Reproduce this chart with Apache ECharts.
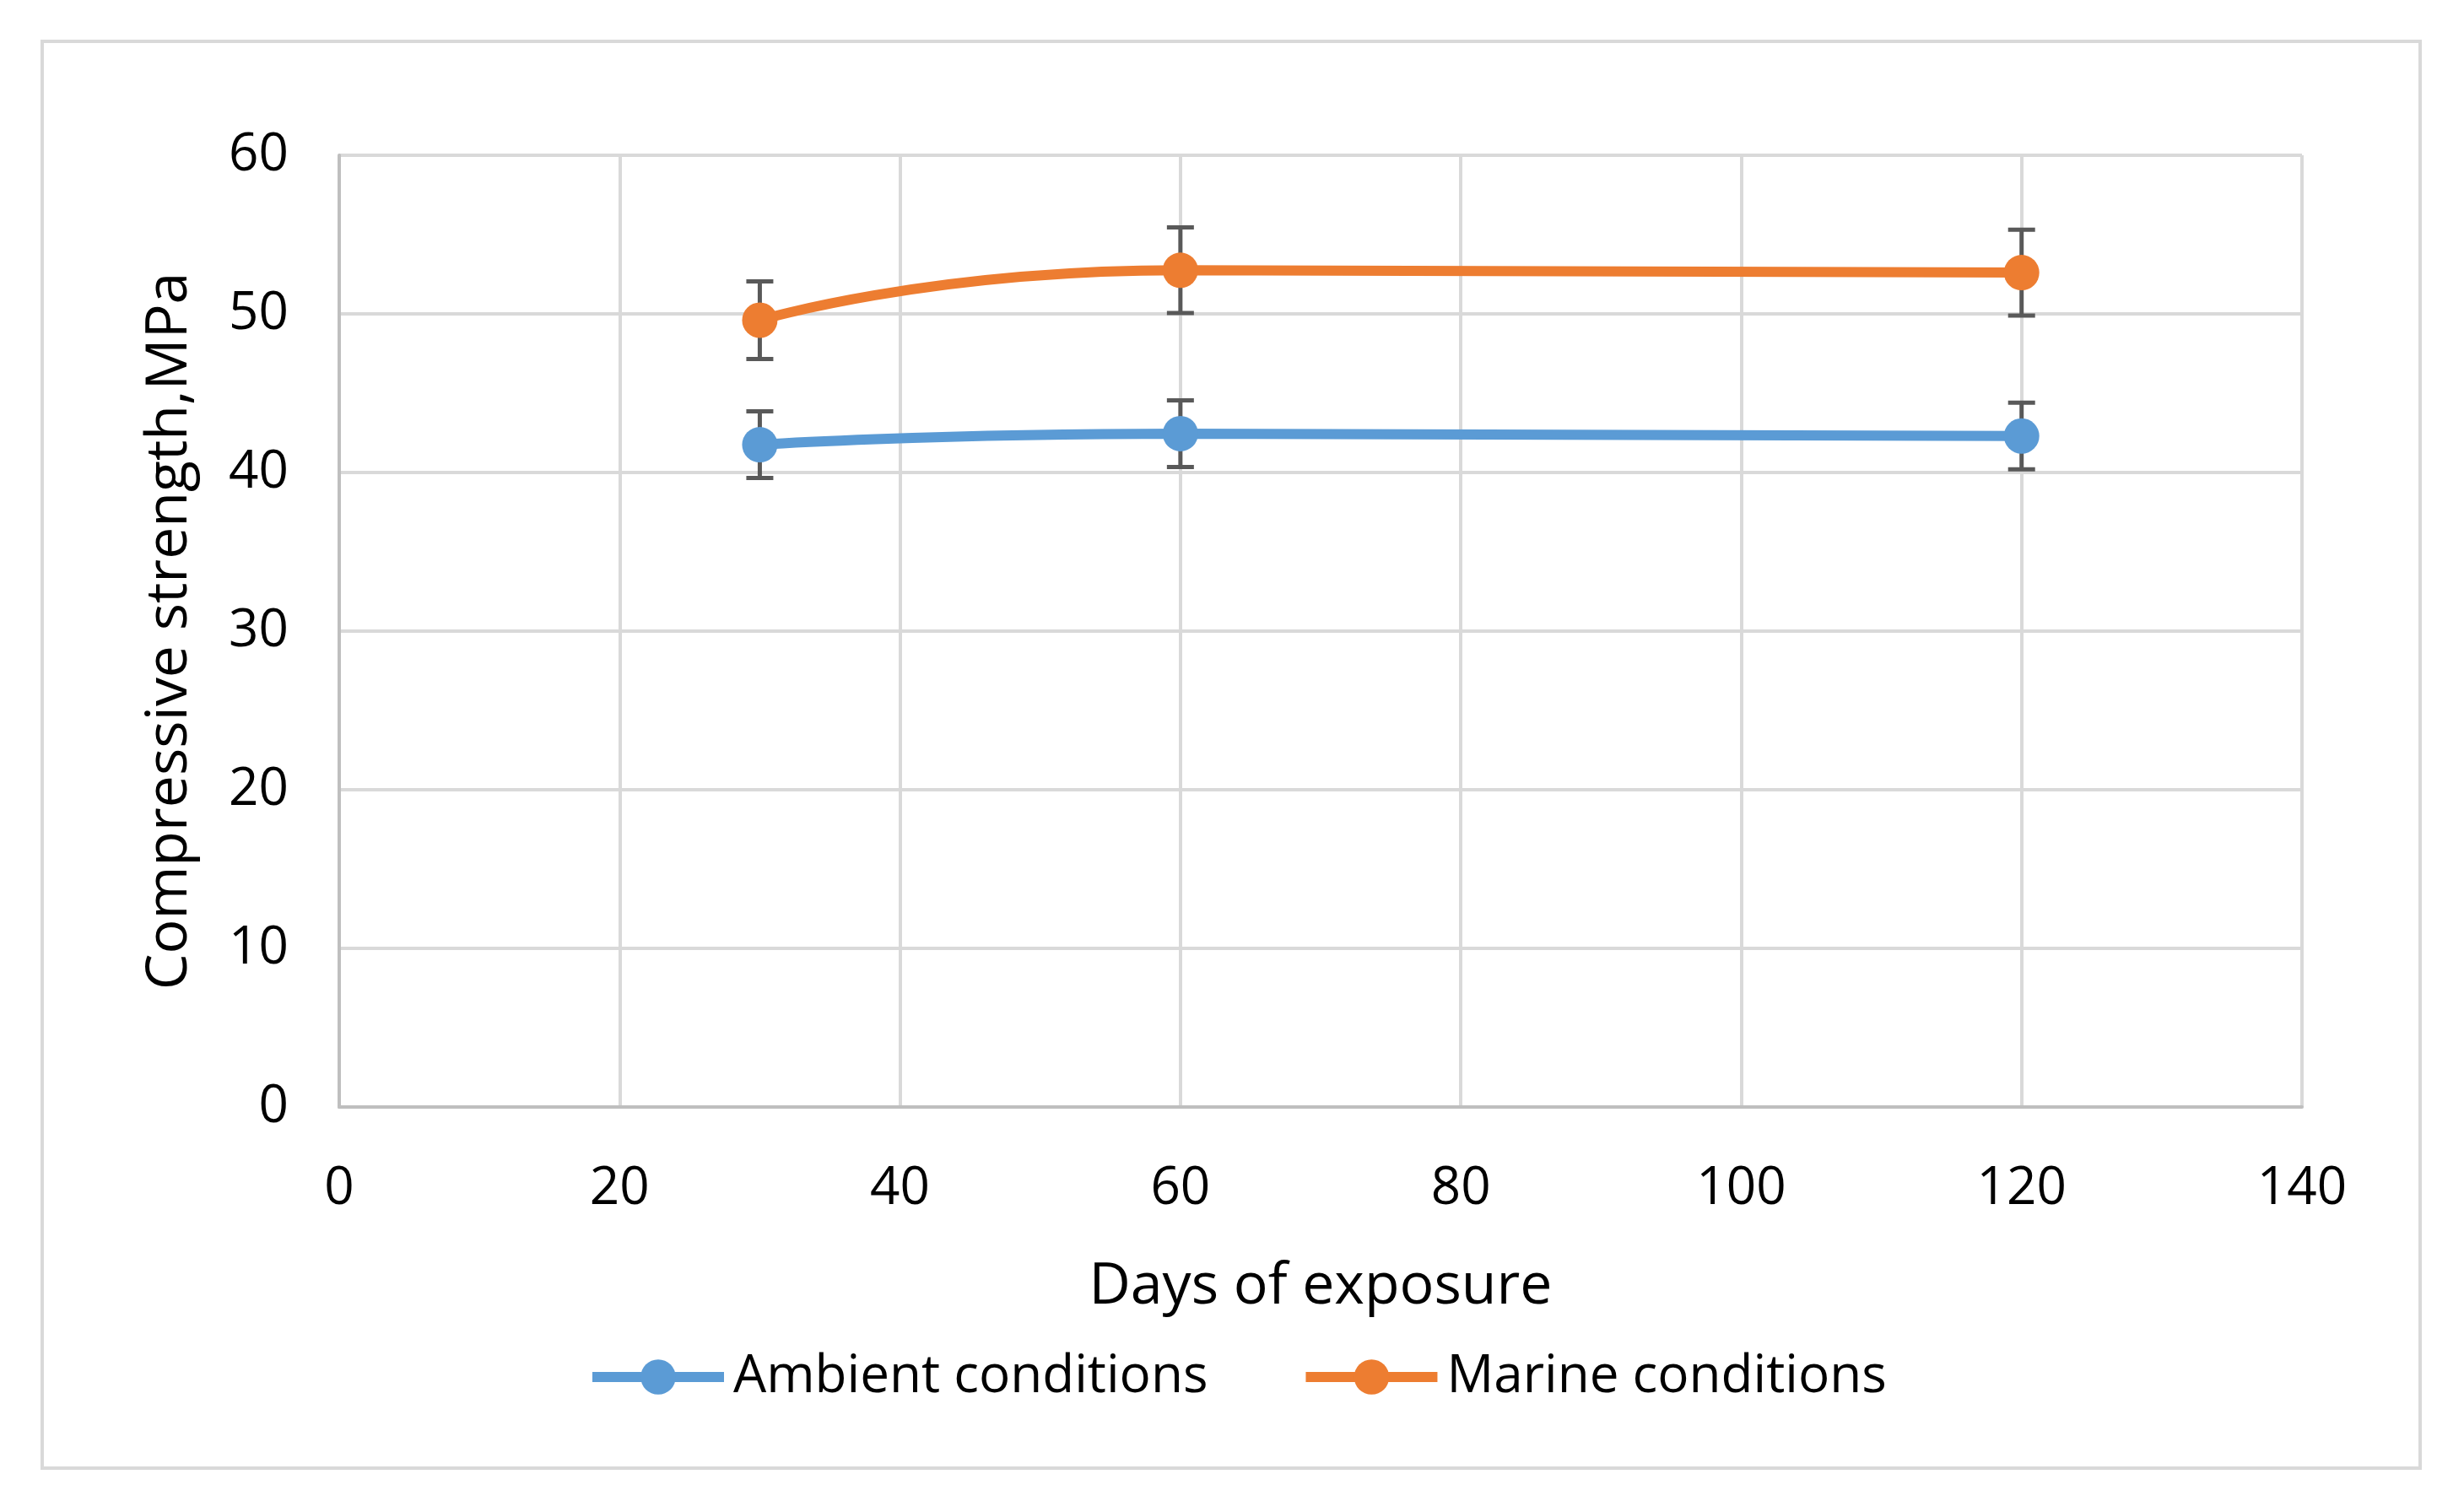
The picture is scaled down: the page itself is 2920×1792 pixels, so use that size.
<!DOCTYPE html>
<html>
<head>
<meta charset="utf-8">
<script src="https://cdn.jsdelivr.net/npm/echarts@6/dist/echarts.min.js"></script>
<style>
html,body{margin:0;padding:0;background:#fff;}
#chart{width:2920px;height:1792px;}
</style>
</head>
<body>
<div id="chart"></div>
<script>
// Data
const days = [30, 60, 120];
const ambient = [41.75, 42.45, 42.3];
const marine = [49.6, 52.75, 52.6];
const ambientErr = [2.1, 2.1, 2.1];
const marineErr = [2.45, 2.7, 2.7];
const seriesNames = ['Ambient conditions', 'Marine conditions'];
const xTitle = 'Days of exposure';
const yTitle = 'Compressive strength,MPa';

const blue = '#5B9BD5';
const orange = '#ED7D31';
const FONT = '"Open Sans", sans-serif';

function pts(vals) { return days.map((d, i) => [d, vals[i]]); }
function errs(vals, e) { return days.map((d, i) => [d, vals[i] - e[i], vals[i] + e[i]]); }

function errRender(params, api) {
  const x = api.value(0);
  const lo = api.coord([x, api.value(1)]);
  const hi = api.coord([x, api.value(2)]);
  const cap = 16;
  const style = { stroke: '#595959', lineWidth: 5 };
  return {
    type: 'group',
    children: [
      { type: 'line', shape: { x1: lo[0], y1: lo[1], x2: hi[0], y2: hi[1] }, style: style },
      { type: 'line', shape: { x1: lo[0] - cap, y1: lo[1], x2: lo[0] + cap, y2: lo[1] }, style: style },
      { type: 'line', shape: { x1: hi[0] - cap, y1: hi[1], x2: hi[0] + cap, y2: hi[1] }, style: style }
    ]
  };
}

const chart = echarts.init(document.getElementById('chart'));
chart.setOption({
  animation: false,
  backgroundColor: '#fff',
  graphic: [{
    type: 'rect',
    shape: { x: 50, y: 49, width: 2818, height: 1691 },
    style: { fill: 'none', stroke: '#d9d9d9', lineWidth: 4 },
    z: -1
  }],
  grid: { left: 402, right: 192, top: 184, bottom: 480 },
  legend: {
    data: seriesNames,
    left: 691, top: 1596,
    itemWidth: 156, itemHeight: 52, itemGap: 110,
    lineStyle: { width: 12 },
    textStyle: { fontFamily: FONT, fontSize: 62, color: '#000', padding: [0, 0, 0, 6] }
  },
  xAxis: {
    type: 'value', min: 0, max: 140, interval: 20,
    name: xTitle, nameLocation: 'middle', nameGap: 180,
    nameTextStyle: { fontFamily: FONT, fontSize: 68, color: '#000' },
    axisLine: { lineStyle: { color: '#bfbfbf', width: 4 } },
    axisTick: { show: false },
    axisLabel: { fontFamily: FONT, fontSize: 62, color: '#000', margin: 66 },
    splitLine: { show: true, lineStyle: { color: '#d9d9d9', width: 4 } }
  },
  yAxis: {
    type: 'value', min: 0, max: 60, interval: 10,
    name: yTitle, nameLocation: 'middle', nameGap: 166, nameRotate: 90,
    nameTextStyle: { fontFamily: FONT, fontSize: 68, color: '#000' },
    axisLine: { show: true, lineStyle: { color: '#bfbfbf', width: 4 } },
    axisTick: { show: false },
    axisLabel: { fontFamily: FONT, fontSize: 62, color: '#000', margin: 60 },
    splitLine: { show: true, lineStyle: { color: '#d9d9d9', width: 4 } }
  },
  series: [
    {
      type: 'custom', name: 'ambErr', renderItem: errRender,
      data: errs(ambient, ambientErr), encode: { x: 0, y: [1, 2] }, z: 2, silent: true
    },
    {
      type: 'custom', name: 'marErr', renderItem: errRender,
      data: errs(marine, marineErr), encode: { x: 0, y: [1, 2] }, z: 2, silent: true
    },
    {
      name: seriesNames[0], type: 'line', data: pts(ambient), smooth: 0.6,
      symbol: 'circle', symbolSize: 42,
      itemStyle: { color: blue }, lineStyle: { color: blue, width: 12 }, z: 3
    },
    {
      name: seriesNames[1], type: 'line', data: pts(marine), smooth: 0.6,
      symbol: 'circle', symbolSize: 42,
      itemStyle: { color: orange }, lineStyle: { color: orange, width: 12 }, z: 3
    }
  ]
});
</script>
</body>
</html>
